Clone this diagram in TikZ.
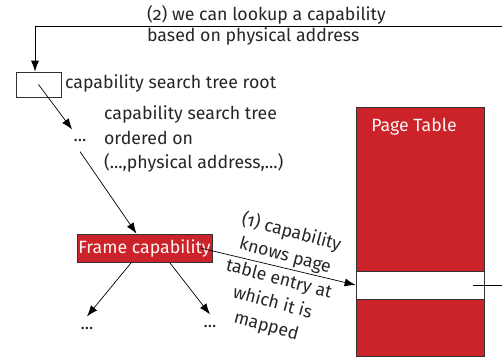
\documentclass[tikz,border=0pt]{standalone}
\usepackage{fontspec}
\setmainfont{Fira Sans}[Numbers=OldStyle]
\usetikzlibrary{positioning, arrows.meta}

\definecolor{pagered}{RGB}{204,34,41}

\begin{document}
\begin{tikzpicture}[x=0.02cm, y=-0.02cm,
    font=\fontsize{10.1}{13.8}\selectfont,
    txt/.style={text=black!85, inner sep=1pt},
    dots/.style={text=black!85, inner sep=0pt, minimum width=0.3cm, minimum height=0.45cm},
    capbox/.style={rectangle, draw=black!80, fill=pagered, text=white!95!pagered, inner sep=0pt, minimum width=2.7cm, minimum height=0.56cm},
    ptbox/.style={rectangle, draw=black!80, fill=pagered, minimum width=2.56cm, minimum height=4.98cm},
    entrybox/.style={rectangle, draw=black!80, fill=white, minimum width=2.56cm, minimum height=0.56cm},
    line/.style={draw, -{Latex[length=2.2mm, width=1.6mm]}}]

    \useasboundingbox (0,0) rectangle (502,358);

    \node [rectangle, draw=black!80, minimum width=0.9cm, minimum height=0.5cm] (root) at (38.5,84.5) {};
    \node [txt, anchor=west] (rootlabel) at (63,83) {capability search tree root};
    \node [dots] (dots1) at (80,140) {...};
    \node [txt, anchor=north west, align=left] (treelabel) at (102,104) {capability search tree\\ordered on\\(...,physical address,...)};

    \node [capbox] (frame) at (144.5,248) {Frame capability};
    \node [dots] (dots2) at (87,328) {...};
    \node [dots] (dots3) at (210,326) {...};

    \node [ptbox] (pt) at (420,231.5) {};
    \node [text=white!95!pagered, anchor=north] (ptlabel) at (414,112) {Page Table};
    \node [entrybox] (entry) at (420,285) {};

    \node [txt, align=center, rotate=-15] (knows) at (279,279) {(1) capability\\knows page\\table entry at\\which it is\\mapped};

    \coordinate (topright) at (502,26);
    \coordinate (entryout) at (502,285);
    \node [txt, anchor=south west] (lookup1) at (145,26) {(2) we can lookup a capability};
    \node [txt, anchor=north west] (lookup2) at (145,26) {based on physical address};

    % arrows
    \path [line] (topright) -| ([xshift=-0.07cm]root.north);
    \path [line] (root.center) -- (dots1);
    \path [line] (dots1.south) -- ([xshift=-0.16cm]frame.north);
    \path [line] ([xshift=-0.26cm]frame.south) -- (dots2.north);
    \path [line] ([xshift=0.5cm]frame.south) -- (dots3.north);
    \path [line] ([xshift=-0.24cm]frame.east) -- (entry.west);
    \draw ([xshift=-0.22cm]entry.east) -- (entryout);
\end{tikzpicture}
\end{document}
